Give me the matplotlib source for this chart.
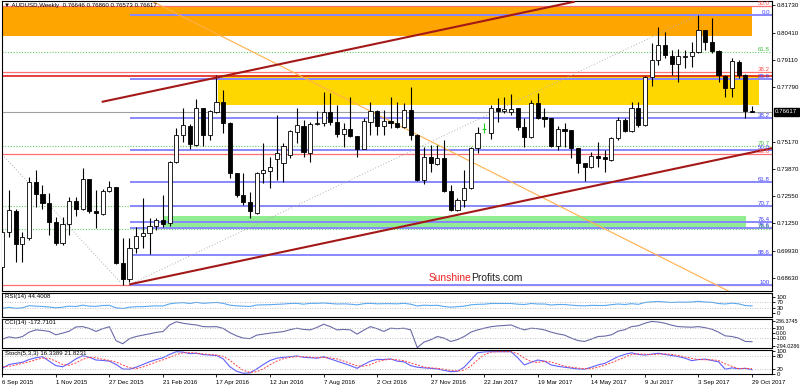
import numpy as np
import matplotlib
matplotlib.use('Agg')
import matplotlib.pyplot as plt
from matplotlib.patches import Rectangle

plt.rcParams['font.family'] = ['Liberation Sans', 'DejaVu Sans']

# weekly AUDUSD candles, 6 Sep 2015 .. 29 Oct 2017 (bar index 0..112)
opens = [0.6917, 0.7085, 0.7186, 0.7025, 0.7056, 0.7325, 0.7265, 0.7221, 0.7133, 0.7032,
         0.7121, 0.7233, 0.7194, 0.7337, 0.7186, 0.7170, 0.7280, 0.7298, 0.6936, 0.6857,
         0.7006, 0.7066, 0.7077, 0.7113, 0.7141, 0.7126, 0.7421, 0.7549, 0.7594, 0.7501,
         0.7677, 0.7549, 0.7661, 0.7709, 0.7608, 0.7365, 0.7261, 0.7229, 0.7173, 0.7365,
         0.7376, 0.7433, 0.7413, 0.7453, 0.7565, 0.7592, 0.7461, 0.7600, 0.7605, 0.7658,
         0.7613, 0.7554, 0.7577, 0.7544, 0.7482, 0.7613, 0.7664, 0.7594, 0.7618, 0.7605,
         0.7589, 0.7669, 0.7549, 0.7333, 0.7442, 0.7410, 0.7437, 0.7280, 0.7189, 0.7237,
         0.7293, 0.7488, 0.7580, 0.7560, 0.7677, 0.7664, 0.7661, 0.7677, 0.7589, 0.7538,
         0.7704, 0.7636, 0.7630, 0.7498, 0.7578, 0.7573, 0.7485, 0.7413, 0.7394, 0.7450,
         0.7442, 0.7429, 0.7533, 0.7621, 0.7568, 0.7677, 0.7597, 0.7826, 0.7909, 0.7981,
         0.7928, 0.7890, 0.7925, 0.7928, 0.7949, 0.8053, 0.7997, 0.7954, 0.7832, 0.7773,
         0.7900, 0.7837, 0.76646]
highs = [0.7095, 0.7285, 0.7192, 0.7085, 0.7346, 0.7381, 0.7309, 0.7269, 0.7157, 0.7157,
         0.7253, 0.7253, 0.7389, 0.7340, 0.7285, 0.7289, 0.7330, 0.7302, 0.7054, 0.7054,
         0.7109, 0.7245, 0.7149, 0.7150, 0.7261, 0.7425, 0.7581, 0.7677, 0.7600, 0.7721,
         0.7680, 0.7670, 0.7835, 0.7765, 0.7612, 0.7368, 0.7365, 0.7277, 0.7370, 0.7509,
         0.7445, 0.7645, 0.7509, 0.7575, 0.7677, 0.7621, 0.7610, 0.7664, 0.7757, 0.7749,
         0.7693, 0.7605, 0.7733, 0.7546, 0.7630, 0.7709, 0.7668, 0.7669, 0.7733, 0.7709,
         0.7701, 0.7781, 0.7552, 0.7493, 0.7501, 0.7501, 0.7525, 0.7309, 0.7245, 0.7381,
         0.7493, 0.7589, 0.7605, 0.7693, 0.7725, 0.7733, 0.7745, 0.7680, 0.7629, 0.7717,
         0.7749, 0.7677, 0.7632, 0.7592, 0.7608, 0.7575, 0.7487, 0.7415, 0.7469, 0.7517,
         0.7477, 0.7540, 0.7637, 0.7630, 0.7709, 0.7709, 0.7830, 0.7989, 0.8069, 0.8045,
         0.7957, 0.7960, 0.7957, 0.7997, 0.8125, 0.8055, 0.8109, 0.7956, 0.7837, 0.7917,
         0.7910, 0.7842, 0.76860]
lows = [0.6900, 0.7061, 0.6941, 0.6938, 0.7045, 0.7206, 0.7193, 0.7069, 0.7021, 0.7021,
        0.7069, 0.7160, 0.7189, 0.7173, 0.7102, 0.7165, 0.7277, 0.6930, 0.6829, 0.6845,
        0.6981, 0.7006, 0.6977, 0.7093, 0.7109, 0.7114, 0.7413, 0.7517, 0.7481, 0.7496,
        0.7496, 0.7525, 0.7655, 0.7557, 0.7341, 0.7253, 0.7213, 0.7150, 0.7170, 0.7317,
        0.7293, 0.7333, 0.7325, 0.7440, 0.7512, 0.7445, 0.7421, 0.7598, 0.7592, 0.7597,
        0.7541, 0.7493, 0.7538, 0.7442, 0.7480, 0.7549, 0.7549, 0.7549, 0.7581, 0.7581,
        0.7581, 0.7525, 0.7330, 0.7314, 0.7373, 0.7405, 0.7277, 0.7184, 0.7183, 0.7205,
        0.7290, 0.7461, 0.7557, 0.7529, 0.7613, 0.7653, 0.7645, 0.7575, 0.7493, 0.7533,
        0.7626, 0.7589, 0.7493, 0.7477, 0.7493, 0.7437, 0.7368, 0.7329, 0.7389, 0.7397,
        0.7373, 0.7425, 0.7525, 0.7565, 0.7565, 0.7589, 0.7590, 0.7784, 0.7885, 0.7917,
        0.7837, 0.7805, 0.7869, 0.7877, 0.7944, 0.7957, 0.7944, 0.7805, 0.7733, 0.7733,
        0.7825, 0.7629, 0.76573]
closes = [0.7085, 0.7189, 0.7025, 0.7061, 0.7325, 0.7265, 0.7221, 0.7133, 0.7030, 0.7121,
          0.7233, 0.7194, 0.7337, 0.7186, 0.7173, 0.7280, 0.7298, 0.6936, 0.6857, 0.7006,
          0.7066, 0.7077, 0.7113, 0.7141, 0.7122, 0.7421, 0.7549, 0.7597, 0.7506, 0.7677,
          0.7549, 0.7666, 0.7709, 0.7608, 0.7365, 0.7261, 0.7229, 0.7186, 0.7367, 0.7381,
          0.7397, 0.7464, 0.7496, 0.7570, 0.7597, 0.7469, 0.7600, 0.7608, 0.7658, 0.7613,
          0.7554, 0.7577, 0.7544, 0.7482, 0.7618, 0.7664, 0.7594, 0.7618, 0.7605, 0.7589,
          0.7669, 0.7549, 0.7333, 0.7442, 0.7413, 0.7437, 0.7280, 0.7189, 0.7237, 0.7293,
          0.7485, 0.7557, 0.7580, 0.7677, 0.7664, 0.7673, 0.7674, 0.7589, 0.7538, 0.7704,
          0.7629, 0.7626, 0.7498, 0.7578, 0.7570, 0.7485, 0.7413, 0.7394, 0.7448, 0.7437,
          0.7433, 0.7533, 0.7621, 0.7568, 0.7677, 0.7597, 0.7826, 0.7909, 0.7981, 0.7933,
          0.7890, 0.7928, 0.7930, 0.7949, 0.8053, 0.7997, 0.7954, 0.7837, 0.7773, 0.7906,
          0.7837, 0.7665, 0.76617]

rsi = [30, 36, 30, 33, 46, 43, 41, 38, 33, 37, 43, 41, 49, 43, 42, 47, 48, 33, 29, 37,
       40, 40, 43, 45, 44, 57, 62, 64, 59, 66, 60, 63, 65, 60, 49, 45, 43, 41, 50, 51,
       52, 54, 56, 59, 60, 55, 60, 60, 62, 59, 56, 57, 55, 51, 58, 60, 57, 58, 58, 57,
       60, 55, 44, 49, 47, 48, 41, 37, 40, 43, 51, 54, 55, 59, 59, 59, 59, 55, 53, 59,
       56, 56, 50, 53, 53, 49, 46, 45, 48, 47, 47, 52, 56, 53, 58, 54, 65, 69, 71, 68,
       65, 67, 67, 68, 72, 68, 66, 59, 56, 61, 57, 47, 44.4]
cci = [-120, -75, -100, -70, 20, 66, 55, 35, -34, 0, 40, 125, 132, 95, 35, 90, 130, -154, -214, -110,
       -68, -40, -14, 15, 32, 166, 230, 200, 180, 165, 132, 128, 132, 95, 10, -55, -100, -110, -40, -20,
       0, 15, 32, 70, 100, 75, 66, 115, 180, 132, 66, 75, 66, -20, 60, 132, 90, 35, 100, 90,
       100, 66, -294.03, -180, -134, -68, -100, -168, -130, -68, 20, 66, 100, 130, 146, 155, 166, 110, 66, 100,
       90, 66, 20, -14, -40, -100, -150, -168, -120, -68, -60, -34, 40, 70, 132, 150, 200, 236.37, 225, 200,
       160, 132, 125, 120, 132, 110, 80, 20, -54, -68, -100, -168, -172.71]
stoch_k = [23, 40, 45, 50, 62, 70, 75, 55, 35, 30, 45, 65, 79, 72, 60, 58, 55, 40, 20, 19,
           28, 40, 52, 62, 70, 85, 97, 95, 88, 90, 84, 82, 80, 65, 30, 10, 1, 3, 20, 40,
           58, 68, 72, 75, 78, 72, 70, 68, 75, 65, 55, 45, 35, 23, 40, 55, 63, 62, 65, 55,
           52, 35, 28, 25, 23, 20, 14, 8, 10, 28, 60, 92, 96, 97, 97, 97, 97, 70, 38, 50,
           60, 55, 38, 32, 28, 24, 20, 19, 28, 38, 45, 60, 75, 85, 92, 85, 82, 86, 90, 85,
           80, 75, 68, 57, 62, 64, 58, 52, 19, 25, 21, 23, 16.34]
stoch_d = [30, 32, 38, 45, 52, 61, 69, 67, 55, 40, 37, 47, 63, 72, 70, 63, 58, 51, 38, 26,
           22, 29, 40, 51, 61, 72, 84, 92, 93, 91, 87, 85, 82, 76, 59, 35, 14, 5, 8, 21,
           39, 55, 66, 72, 75, 75, 73, 70, 71, 69, 65, 55, 45, 34, 33, 39, 53, 60, 63, 61,
           57, 47, 38, 29, 25, 23, 19, 14, 11, 15, 33, 60, 83, 95, 97, 97, 97, 88, 68, 53,
           49, 55, 51, 42, 33, 28, 24, 21, 22, 28, 37, 48, 60, 73, 84, 87, 86, 84, 86, 87,
           85, 80, 74, 67, 62, 61, 61, 58, 43, 32, 22, 23, 21.82]

date_labels = ['6 Sep 2015', '1 Nov 2015', '27 Dec 2015', '21 Feb 2016', '17 Apr 2016',
               '12 Jun 2016', '7 Aug 2016', '2 Oct 2016', '27 Nov 2016', '22 Jan 2017',
               '19 Mar 2017', '14 May 2017', '9 Jul 2017', '3 Sep 2017', '29 Oct 2017']
price_ticks = [0.81730, 0.80410, 0.79110, 0.77790, 0.75170, 0.73870, 0.72550, 0.71250, 0.69930, 0.68630]

# fibonacci levels drawn on the chart
blue_levels = [0.8125, 0.7819, 0.7629, 0.7476, 0.7323, 0.7207, 0.7133, 0.7105, 0.6975, 0.6827]
blue_names = ['0.0', '23.6', '38.2', '50.0', '61.8', '70.7', '76.4', '78.6', '88.6', '100']
red_levels = [0.8166, 0.7850, 0.7459, 0.6827]
red_names = ['50.0', '38.2', '23.6', '']
green_levels = [0.7946, 0.7497, 0.7209, 0.7097]
green_names = ['61.8', '70.7', '', '78.6']

W, H = 800, 386
fig = plt.figure(figsize=(8, 3.86), dpi=100)


def axes_px(x0, y0, x1, y1):
    return fig.add_axes([x0 / W, 1 - y1 / H, (x1 - x0) / W, (y1 - y0) / H])


ax = axes_px(1.5, 1, 772, 291)
ax_rsi = axes_px(1.5, 293, 772, 317)
ax_cci = axes_px(1.5, 318.5, 772, 348)
ax_sto = axes_px(1.5, 349.5, 772, 374)

xmin, xmax = -0.12, 114.99
n = len(closes)
x = np.arange(n)
fs = 4.4

# rectangles
ax.add_patch(Rectangle((xmin - 1, 0.8024), 112.05 - xmin + 1, 0.8170 - 0.8024, color='#FFA500', zorder=0.5, lw=0))
ax.add_patch(Rectangle((32.2, 0.7693), 113.05 - 32.2, 0.7835 - 0.7693, color='#FFD700', zorder=0.5, lw=0))
ax.add_patch(Rectangle((24.1, 0.7098), 111.1 - 24.1, 0.7161 - 0.7098, color='#90EE90', zorder=0.5, lw=0))

# horizontal levels
for p, name in zip(red_levels, red_names):
    ax.axhline(p, color='#FF7070', lw=0.9, zorder=1)
    if name:
        ax.text(114.7, p, name, color='#FF5050', fontsize=fs, ha='right', va='bottom', zorder=6)
ax.axhline(0.7834, color='#E02020', lw=1.2, zorder=1)
for p, name in zip(green_levels, green_names):
    ax.axhline(p, color='#66CC66', lw=0.8, ls=(0, (1, 1.5)), zorder=1)
    if name:
        ax.text(114.7, p, name, color='#44BB44', fontsize=fs, ha='right', va='bottom', zorder=6)
for p, name in zip(blue_levels, blue_names):
    ax.hlines(p, 19.1, xmax, color='#8888FF', lw=1.4, zorder=1.2)
    ax.text(114.7, p, name, color='#4040FF', fontsize=fs, ha='right', va='bottom', zorder=6)

# current price line
ax.axhline(closes[-1], color='#A0A0A0', lw=0.8, zorder=1.1)

# dotted fib base lines
ax.plot([19.1, 104], [0.6833, 0.8125], color='#B0B0B0', lw=0.7, ls=(0, (1, 2)), zorder=1.3)
ax.plot([0.3, 17.75], [0.7445, 0.6839], color='#B0B0B0', lw=0.7, ls=(0, (1, 2)), zorder=1.3)

# orange thin trend line
ax.plot([10, 115], [0.8189 + 12.48 * 0.0016146, 0.8189 - 92.52 * 0.0016146], color='#FFB04A', lw=0.8, zorder=1.4)

# candles
for i in range(n):
    o, h, l, c = opens[i], highs[i], lows[i], closes[i]
    if abs(c - o) < 1e-6:
        ax.vlines(i, l, h, color='#22CC22', lw=0.8, zorder=3)
        ax.hlines(c, i - 0.3, i + 0.3, color='#22CC22', lw=0.8, zorder=3)
        continue
    ax.vlines(i, l, h, color='black', lw=0.8, zorder=3)
    bottom = min(o, c)
    height = max(abs(c - o), 0.00045)
    face = 'white' if c > o else 'black'
    ax.add_patch(Rectangle((i - 0.31, bottom), 0.62, height, facecolor=face, edgecolor='black', lw=0.6, zorder=3.1))

# red channel
slope = 0.000681
ax.plot([15.0, 85.4], [0.7709, 0.7709 + slope * (85.4 - 15.0)], color='#A41818', lw=1.5, zorder=4)
ax.plot([19.1, 115], [0.6833, 0.6833 + slope * (115 - 19.1)], color='#A41818', lw=1.5, zorder=4)

t1 = ax.text(63.7, 0.6838, 'Sunshine', color='#EE2020', fontsize=7.4, ha='left', va='bottom', zorder=6)
ax.annotate('Profits.com', xy=(1, 0), xycoords=t1, color='#222222', fontsize=7.4,
            ha='left', va='bottom', zorder=6)

ax.set_xlim(xmin, xmax)
ax.set_ylim(0.68006, 0.81922)
ax.yaxis.tick_right()
ax.set_yticks(price_ticks)
ax.set_yticklabels(['%.5f' % p for p in price_ticks])
ax.set_xticks([])

fig.text(4 / W, 1 - 6 / H, '\u25bc AUDUSD,Weekly  0.76646 0.76860 0.76573 0.76617', fontsize=fs, va='center', ha='left')
fig.text(775 / W, 1 - 111.7 / H, '0.76617', color='white', fontsize=fs, va='center', ha='left',
         bbox=dict(facecolor='black', edgecolor='black', pad=1.0))

# RSI
ax_rsi.plot(x, rsi, color='#5AA8F0', lw=0.8)
for lv in (70, 30):
    ax_rsi.axhline(lv, color='#B0B0B0', lw=0.6, ls=(0, (1, 2)))
ax_rsi.set_ylim(-22, 122)
ax_rsi.yaxis.tick_right()
ax_rsi.set_yticks([100, 70, 30, 0])
ax_rsi.set_yticklabels(['100', '70', '30', '0'])
ax_rsi.text(0.004, 0.95, 'RSI(14) 44.4008', transform=ax_rsi.transAxes, fontsize=fs, va='top')

# CCI
ax_cci.plot(x, cci, color='#6A6AA8', lw=0.8)
for lv in (100, -100):
    ax_cci.axhline(lv, color='#B0B0B0', lw=0.6, ls=(0, (1, 2)))
ax_cci.set_ylim(-300, 296)
ax_cci.yaxis.tick_right()
ax_cci.set_yticks([236.3745, 100, 0, -100, -260])
ax_cci.set_yticklabels(['236.3745', '100', '0.00', '-100', '-294.0286'])
ax_cci.text(0.004, 0.95, 'CCI(14) -172.7101', transform=ax_cci.transAxes, fontsize=fs, va='top')

# Stochastic
ax_sto.plot(x, stoch_k, color='#6060FF', lw=0.8)
ax_sto.plot(x, stoch_d, color='#FF4040', lw=0.7, ls=(0, (2, 1.5)))
for lv in (80, 20):
    ax_sto.axhline(lv, color='#B0B0B0', lw=0.6, ls=(0, (1, 2)))
ax_sto.set_ylim(-2.2, 106.7)
ax_sto.yaxis.tick_right()
ax_sto.set_yticks([100, 80, 20, 0])
ax_sto.set_yticklabels(['100', '80', '20', '0'])
ax_sto.text(0.004, 0.95, 'Stoch(5,3,3) 16.3389 21.8231', transform=ax_sto.transAxes, fontsize=fs, va='top')
ax_sto.set_xticks(list(range(0, 113, 8)))
ax_sto.set_xticklabels(date_labels, fontsize=fs, ha='left')

for a in (ax, ax_rsi, ax_cci, ax_sto):
    a.set_xlim(xmin, xmax)
    a.tick_params(axis='y', labelsize=fs, length=2, pad=1.5, width=0.6)
    a.tick_params(axis='x', labelsize=fs, length=2.5, pad=1.5, width=0.6)
    for s in a.spines.values():
        s.set_linewidth(0.8)
for a in (ax, ax_rsi, ax_cci):
    a.set_xticks([])
ax_cci.tick_params(axis='y', labelsize=3.9, pad=0.8)

fig.savefig('out.png', dpi=100)
